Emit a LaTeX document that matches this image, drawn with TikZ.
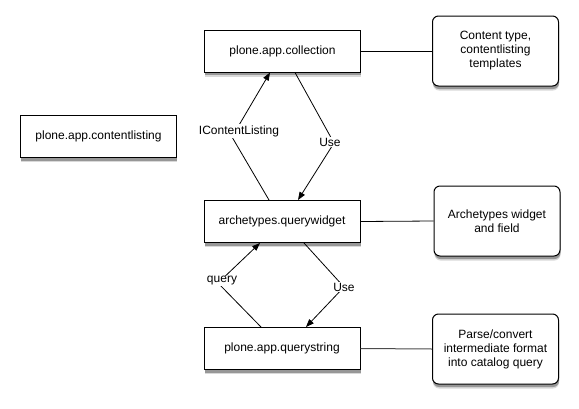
\documentclass[tikz,border=0pt]{standalone}
\usepackage{fontspec}
\setmainfont{Liberation Sans}
\usetikzlibrary{shadows,arrows.meta}
\begin{document}
\begin{tikzpicture}[x=1pt,y=-1pt,
  font=\fontsize{12}{14}\selectfont,
  shd/.style={drop shadow={shadow xshift=0.5pt, shadow yshift=-4.5pt, opacity=0.15, fill=black},
              drop shadow={shadow xshift=0.5pt, shadow yshift=-3pt, opacity=0.3, fill=black}},
  pkg/.style={draw, line width=1pt, fill=white, shd, minimum width=156pt, minimum height=42pt, inner sep=0pt},
  note/.style={draw, line width=1pt, fill=white, shd, rounded corners=6pt, minimum width=126pt, minimum height=70pt, align=center, inner sep=0pt},
  conn/.style={line width=0.8pt},
  arr/.style={line width=0.8pt, -{Triangle[length=8pt,width=6pt]}},
  lbl/.style={fill=white, inner sep=1pt}]
\useasboundingbox (0,0) rectangle (579,408);

\node[pkg] (coll) at (282.5,51) {plone.app.collection};
\node[pkg] (qw) at (282,221.5) {archetypes.querywidget};
\node[pkg] (qs) at (282,348.5) {plone.app.querystring};
\node[pkg] (cl) at (98.5,136.5) {plone.app.contentlisting};

\node[note] (ct) at (495.5,51) {Content type,\\contentlisting\\templates};
\node[note] (aw) at (497,221) {Archetypes widget\\and field};
\node[note] (pc) at (495.5,349) {Parse/convert\\intermediate format\\into catalog query};

\draw[conn] (coll.east) -- (ct.west);
\draw[conn] (qw.east) -- (aw.west);
\draw[conn, draw=black!70, line width=1pt] (qs.east) -- (pc.west);

\coordinate (b1) at (232,137);
\coordinate (b2) at (334,143);
\coordinate (b3) at (218,283);
\coordinate (b4) at (344,287);

\draw[arr] ([xshift=-13pt]qw.north) -- (b1) -- ([xshift=-12.5pt]coll.south);
\draw[arr] ([xshift=12.5pt]coll.south) -- (b2) -- ([xshift=16pt]qw.north);
\draw[arr] ([xshift=-21pt]qs.north) -- (b3) -- ([xshift=-22pt]qw.south);
\draw[arr] ([xshift=22pt]qw.south) -- (b4) -- ([xshift=24pt]qs.north);

\node[lbl] (l1) at (239,131) {IContentListing};
\node[lbl] (l2) at (330,142) {Use};
\node[lbl] (l3) at (222,281) {query};
\node[lbl] (l4) at (344,287) {Use};
\end{tikzpicture}
\end{document}
